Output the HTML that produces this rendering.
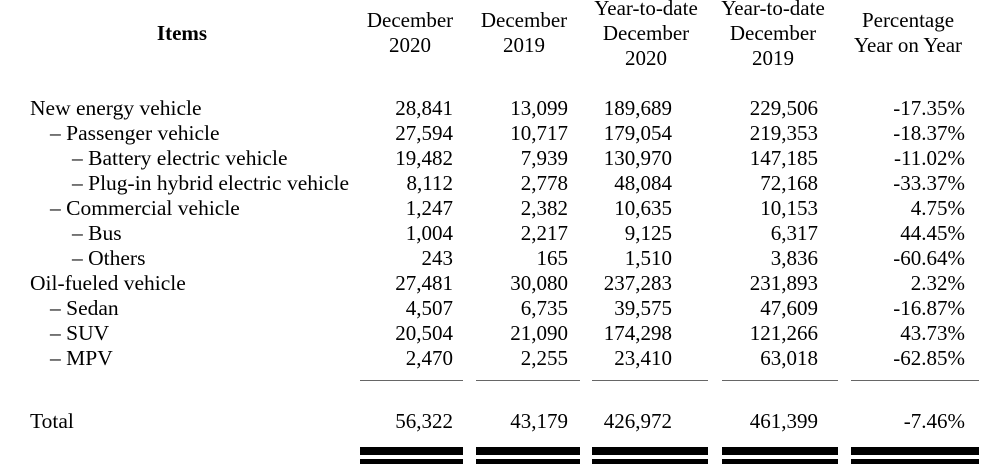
<!DOCTYPE html>
<html><head><meta charset="utf-8"><style>
html,body{margin:0;padding:0;background:#fff;}
body{width:1000px;height:468px;position:relative;overflow:hidden;font-family:"Liberation Serif",serif;font-size:21px;color:#000;}
.t{position:absolute;white-space:nowrap;line-height:24px;font-size:21.5px;}
.r{position:absolute;white-space:nowrap;line-height:24px;text-align:right;}
.c{position:absolute;white-space:nowrap;line-height:24px;text-align:center;transform:translateX(-50%);}
.l{position:absolute;background:#000;}
</style></head><body>
<div class="c" style="left:182px;top:21px;font-weight:bold">Items</div>
<div class="c" style="left:410px;top:8px">December</div><div class="c" style="left:410px;top:33px">2020</div>
<div class="c" style="left:524px;top:8px">December</div><div class="c" style="left:524px;top:33px">2019</div>
<div class="c" style="left:646px;top:-4px">Year-to-date</div><div class="c" style="left:646px;top:21px">December</div><div class="c" style="left:646px;top:46px">2020</div>
<div class="c" style="left:773px;top:-4px">Year-to-date</div><div class="c" style="left:773px;top:21px">December</div><div class="c" style="left:773px;top:46px">2019</div>
<div class="c" style="left:908px;top:8px">Percentage</div><div class="c" style="left:908px;top:33px">Year on Year</div>
<div id="rows"></div>
<script>
var rows=[
[30,"New energy vehicle","28,841","13,099","189,689","229,506","-17.35%"],
[50,"– Passenger vehicle","27,594","10,717","179,054","219,353","-18.37%"],
[72,"– Battery electric vehicle","19,482","7,939","130,970","147,185","-11.02%"],
[72,"– Plug-in hybrid electric vehicle","8,112","2,778","48,084","72,168","-33.37%"],
[50,"– Commercial vehicle","1,247","2,382","10,635","10,153","4.75%"],
[72,"– Bus","1,004","2,217","9,125","6,317","44.45%"],
[72,"– Others","243","165","1,510","3,836","-60.64%"],
[30,"Oil-fueled vehicle","27,481","30,080","237,283","231,893","2.32%"],
[50,"– Sedan","4,507","6,735","39,575","47,609","-16.87%"],
[50,"– SUV","20,504","21,090","174,298","121,266","43.73%"],
[50,"– MPV","2,470","2,255","23,410","63,018","-62.85%"]];
var rights=[453,568,672,818,965],h="";
function row(y,r){h+='<div class="t" style="left:'+r[0]+'px;top:'+y+'px">'+r[1]+'</div>';
for(var i=0;i<5;i++)h+='<div class="r" style="right:'+(1000-rights[i])+'px;top:'+y+'px">'+r[i+2]+'</div>';}
rows.forEach(function(r,k){row(96+k*25,r);});
row(409,[30,"Total","56,322","43,179","426,972","461,399","-7.46%"]);
var L=[[360,463],[476,580],[592,708],[722,838],[851,979]];
L.forEach(function(a){var w=a[1]-a[0];
h+='<div class="l" style="left:'+a[0]+'px;width:'+w+'px;top:380px;height:1px;background:#666"></div>';
h+='<div class="l" style="left:'+a[0]+'px;width:'+w+'px;top:447px;height:8px"></div>';
h+='<div class="l" style="left:'+a[0]+'px;width:'+w+'px;top:459px;height:5px"></div>';});
document.getElementById("rows").innerHTML=h;
</script>
</body></html>
